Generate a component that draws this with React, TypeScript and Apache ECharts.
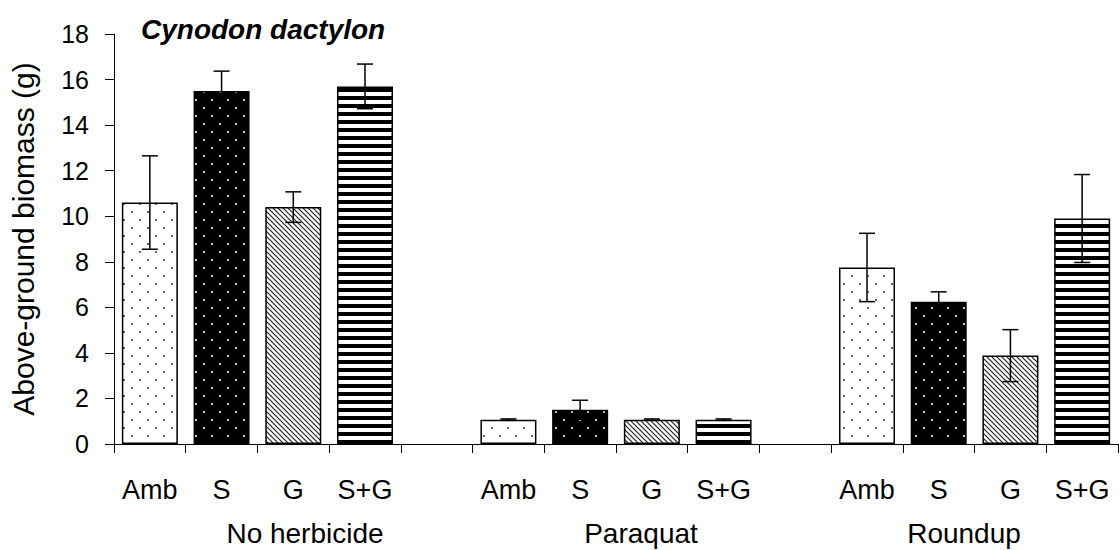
import React, { useEffect, useRef } from "react";
import * as echarts from "echarts";

const treatments = ["Amb", "S", "G", "S+G"];
const groups = ["No herbicide", "Paraquat", "Roundup"];
const noHerbicide = [10.6, 15.5, 10.4, 15.7];
const noHerbicideErr = [2.05, 0.87, 0.67, 0.98];
const paraquat = [1.07, 1.5, 1.07, 1.07];
const paraquatErr = [0.03, 0.42, 0.03, 0.03];
const roundup = [7.75, 6.25, 3.88, 9.9];
const roundupErr = [1.5, 0.43, 1.14, 1.93];
const yTicks = [0, 2, 4, 6, 8, 10, 12, 14, 16, 18];
const yTitle = "Above-ground biomass (g)";
const chartTitle = "Cynodon dactylon";

function makeCanvas(w: number, h: number, draw: (c: CanvasRenderingContext2D) => void) {
  const cv = document.createElement("canvas");
  cv.width = w;
  cv.height = h;
  const ctx = cv.getContext("2d")!;
  draw(ctx);
  return cv;
}

function pattern(cv: HTMLCanvasElement) {
  return { type: "pattern", image: cv, repeat: "repeat", imageWidth: cv.width, imageHeight: cv.height } as any;
}

export default function App() {
  const ref = useRef<HTMLDivElement>(null);
  useEffect(() => {
    if (!ref.current) return;
    const chart = echarts.init(ref.current, null, { renderer: "svg" });

    const dots = (bg: string, fg: string) =>
      makeCanvas(16, 16, (c) => {
        c.fillStyle = bg;
        c.fillRect(0, 0, 16, 16);
        c.fillStyle = fg;
        c.beginPath();
        c.arc(4, 4, 1.1, 0, Math.PI * 2);
        c.arc(12, 12, 1.1, 0, Math.PI * 2);
        c.fill();
      });
    const diag = makeCanvas(5, 5, (c) => {
      c.fillStyle = "#fff";
      c.fillRect(0, 0, 5, 5);
      c.strokeStyle = "#222";
      c.lineWidth = 1.2;
      c.beginPath();
      c.moveTo(-1, -1);
      c.lineTo(6, 6);
      c.moveTo(-6, -1);
      c.lineTo(1, 6);
      c.moveTo(4, -1);
      c.lineTo(11, 6);
      c.stroke();
    });
    const stripes = makeCanvas(8, 8, (c) => {
      c.fillStyle = "#fff";
      c.fillRect(0, 0, 8, 8);
      c.fillStyle = "#000";
      c.fillRect(0, 0, 8, 4);
    });
    const fills = [
      pattern(dots("#ffffff", "#444")),
      pattern(dots("#000000", "#fff")),
      pattern(diag),
      pattern(stripes),
    ];

    const groupVals = [noHerbicide, paraquat, roundup];
    const groupErrs = [noHerbicideErr, paraquatErr, roundupErr];
    const categories: string[] = [];
    const barData: any[] = [];
    const errData: number[][] = [];
    groupVals.forEach((vals, gi) => {
      if (gi > 0) {
        categories.push("");
        barData.push("-");
      }
      vals.forEach((v, ti) => {
        const idx = categories.length;
        categories.push(treatments[ti]);
        barData.push({ value: v, itemStyle: { color: fills[ti] } });
        errData.push([idx, v, groupErrs[gi][ti]]);
      });
    });

    const groupCenters = [305, 641, 964];

    chart.setOption({
      animation: false,
      title: {
        text: chartTitle,
        left: 136,
        top: 10,
        textStyle: { fontSize: 28, fontWeight: "bold", fontStyle: "italic", fontFamily: "Arial", color: "#000" },
      },
      grid: { left: 113, right: 2, top: 34, bottom: 106, containLabel: false },
      xAxis: {
        type: "category",
        data: categories,
        axisLine: { lineStyle: { color: "#000", width: 1 } },
        axisTick: { show: true, interval: 0, length: 9, lineStyle: { color: "#000" } },
        axisLabel: { interval: 0, margin: 32, fontSize: 27, fontFamily: "Arial", color: "#000" },
        splitLine: { show: false },
      },
      yAxis: {
        type: "value",
        min: yTicks[0],
        max: yTicks[yTicks.length - 1],
        interval: 2,
        name: yTitle,
        nameLocation: "middle",
        nameGap: 76,
        nameTextStyle: { fontSize: 30, fontFamily: "Arial", color: "#000" },
        axisLine: { show: true, lineStyle: { color: "#000", width: 1 } },
        axisTick: { show: true, length: 9, lineStyle: { color: "#000" } },
        axisLabel: { fontSize: 25, fontFamily: "Arial", color: "#000", margin: 25 },
        splitLine: { show: false },
      },
      graphic: groups.map((g, i) => ({
        type: "text",
        x: groupCenters[i],
        y: 533,
        style: {
          text: g,
          fontSize: 28,
          fontFamily: "Arial",
          fill: "#000",
          textAlign: "center",
          textVerticalAlign: "middle",
        },
      })),
      series: [
        {
          type: "bar",
          data: barData,
          barWidth: 56,
          itemStyle: { borderColor: "#000", borderWidth: 1.5 },
        },
        {
          type: "custom",
          data: errData,
          encode: { x: 0, y: 1 },
          z: 5,
          renderItem: (params: any, api: any) => {
            const x = api.value(0);
            const v = api.value(1);
            const e = api.value(2);
            const top = api.coord([x, v + e]);
            const bot = api.coord([x, v - e]);
            const hw = 8;
            const st = { stroke: "#000", lineWidth: 1.5 };
            return {
              type: "group",
              children: [
                { type: "line", shape: { x1: top[0], y1: top[1], x2: bot[0], y2: bot[1] }, style: st },
                { type: "line", shape: { x1: top[0] - hw, y1: top[1], x2: top[0] + hw, y2: top[1] }, style: st },
                { type: "line", shape: { x1: bot[0] - hw, y1: bot[1], x2: bot[0] + hw, y2: bot[1] }, style: st },
              ],
            };
          },
        },
      ],
    });
    return () => chart.dispose();
  }, []);
  return <div ref={ref} style={{ position: "fixed", left: 0, top: 0, width: 1120, height: 550, background: "#fff" }} />;
}
